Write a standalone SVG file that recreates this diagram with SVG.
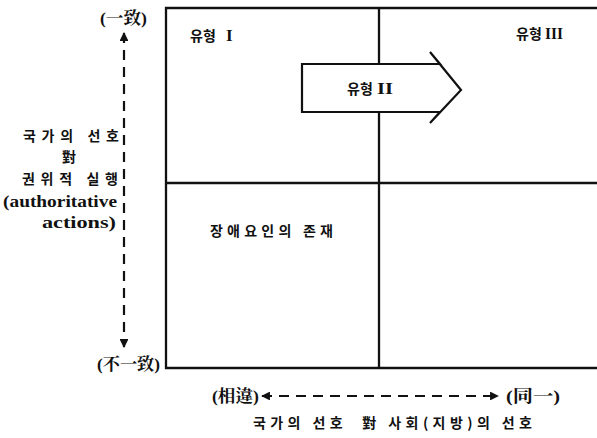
<svg xmlns="http://www.w3.org/2000/svg" width="597" height="438" viewBox="0 0 597 438">
<defs>
<style>
.t{font-family:"Liberation Serif","Noto Serif CJK KR","Noto Sans CJK KR",serif;font-weight:bold;font-size:17px;fill:#111;letter-spacing:0}
.k{font-family:"Noto Sans CJK KR","Liberation Serif",serif;font-weight:bold;font-size:14px;fill:#111}
.ln{stroke:#111;stroke-width:2.3;fill:none}
.dash{stroke:#111;stroke-width:2.2;fill:none;stroke-dasharray:10,7}
</style>
<marker id="ah" viewBox="0 0 10 10" refX="9" refY="5" markerWidth="4" markerHeight="4" orient="auto-start-reverse">
<path d="M0,0 L10,5 L0,10 z" fill="#111"/>
</marker>
</defs>
<rect width="597" height="438" fill="#fff"/>
<g id="grid">
<path class="ln" d="M597,8 L166,8 L166,368 L597,368"/>
<path class="ln" d="M166,183 L597,183"/>
<path class="ln" d="M379,8 L379,368"/>
</g>
<g id="typeII">
<polygon points="302,64 440,64 430,52 461,90 430,123 440,112 302,112" fill="#fff" stroke="#111" stroke-width="2.2" stroke-linejoin="miter"/>
<text class="k" x="347" y="94">유형</text>
<text class="t" x="377" y="94" textLength="16" lengthAdjust="spacingAndGlyphs">II</text>
</g>
<g id="typeI">
<text class="k" x="190" y="41">유형</text>
<text class="t" x="226" y="41">I</text>
</g>
<g id="typeIII">
<text class="k" x="516" y="39">유형</text>
<text class="t" x="545" y="39" textLength="18" lengthAdjust="spacingAndGlyphs">III</text>
</g>
<g id="obstacle"><text class="k" x="210" y="236" textLength="123" lengthAdjust="spacing">장애요인의 존재</text></g>
<g id="connectors">
<line class="dash" x1="124" y1="33" x2="124" y2="347" marker-start="url(#ah)" marker-end="url(#ah)"/>
<line class="dash" x1="262" y1="396" x2="498" y2="396" marker-start="url(#ah)" marker-end="url(#ah)"/>
</g>
<g id="yaxis">
<text class="t" x="100" y="24" textLength="47" lengthAdjust="spacingAndGlyphs">(一致)</text>
<text class="t" x="97" y="370" textLength="63" lengthAdjust="spacingAndGlyphs">(不一致)</text>
<text class="k" x="23" y="141" textLength="96" lengthAdjust="spacing">국가의 선호</text>
<text class="k" x="62" y="162">對</text>
<text class="k" x="22" y="184" textLength="96" lengthAdjust="spacing">권위적 실행</text>
<text class="t" x="3" y="207" textLength="114" lengthAdjust="spacingAndGlyphs">(authoritative</text>
<text class="t" x="42" y="228" textLength="74" lengthAdjust="spacingAndGlyphs">actions)</text>
</g>
<g id="xaxis">
<text class="t" x="212" y="402" textLength="47" lengthAdjust="spacingAndGlyphs">(相違)</text>
<text class="t" x="506" y="402" textLength="54" lengthAdjust="spacingAndGlyphs">(同一)</text>
<text class="k" x="253" y="428" style="white-space:pre" textLength="279" lengthAdjust="spacing">국가의 선호  對 사회(지방)의 선호</text>
</g>
</svg>
